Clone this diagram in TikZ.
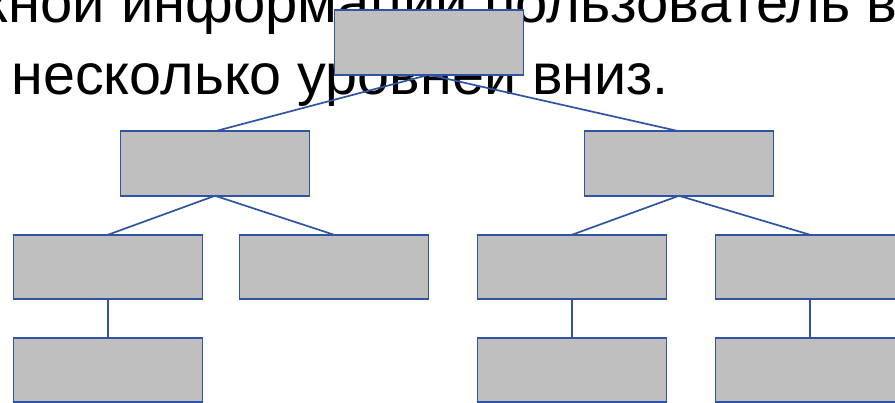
\documentclass[tikz,border=0pt]{standalone}
\usepackage{fontspec}
\setmainfont{Liberation Sans}
\definecolor{boxline}{RGB}{47,84,164}
\definecolor{boxfill}{RGB}{191,191,191}
\begin{document}
\begin{tikzpicture}[x=1pt,y=-1pt,
  hbox/.style={draw=boxline,fill=boxfill,line width=1.7pt,minimum width=189pt,minimum height=64.5pt,inner sep=0pt,outer sep=0pt},
  conn/.style={draw=boxline,line width=1.7pt},
  bigtext/.style={inner sep=0pt,outer sep=0pt}]
\useasboundingbox (0,0) rectangle (895,402);
\node[bigtext,font=\fontsize{58}{68}\selectfont,anchor=base west] (line1) at (8.5,22.7) {\llap{ж}ной информации пользователь в};
\node[bigtext,font=\fontsize{57.5}{68}\selectfont,anchor=base west] (line2) at (11.5,94.3) {несколько уровней вниз.};
\node[hbox] (top) at (429,42.5) {};
\node[hbox] (a) at (215,163.5) {};
\node[hbox] (b) at (679,163.5) {};
\node[hbox] (a1) at (108,267) {};
\node[hbox] (a2) at (334,267) {};
\node[hbox] (b1) at (572,267) {};
\node[hbox] (b2) at (810,267) {};
\node[hbox] (a11) at (108,370) {};
\node[hbox] (b11) at (572,370) {};
\node[hbox] (b21) at (810,370) {};
\draw[conn] (top.south) -- (a.north);
\draw[conn] (top.south) -- (b.north);
\draw[conn] (a.south) -- (a1.north);
\draw[conn] (a.south) -- (a2.north);
\draw[conn] (b.south) -- (b1.north);
\draw[conn] (b.south) -- (b2.north);
\draw[conn] (a1.south) -- (a11.north);
\draw[conn] (b1.south) -- (b11.north);
\draw[conn] (b2.south) -- (b21.north);
\node[hbox] at (top) {};
\end{tikzpicture}
\end{document}
